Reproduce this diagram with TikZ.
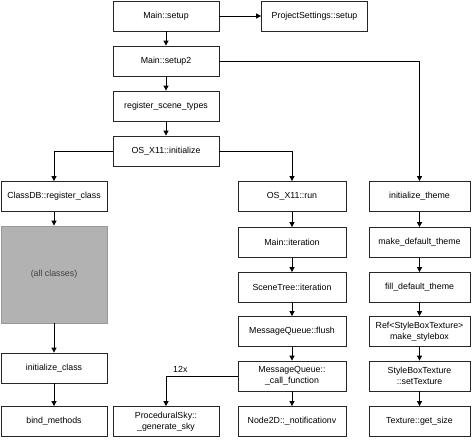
\documentclass[tikz,border=0pt]{standalone}
\usepackage{fontspec}
\setmainfont{Liberation Sans}
\usetikzlibrary{shapes,arrows.meta}
\tikzstyle{block} = [inner sep = 2, rectangle, draw=black!85, line width=0.8pt, fill=white, text centered, align=center, minimum width=106pt, minimum height=30pt, font=\fontsize{8.8}{10.5}\selectfont, node distance=45pt]
\tikzstyle{gray_block} = [block, draw=black!40, fill=black!30, text=black!75, minimum height=97pt]
\tikzstyle{line} = [draw, line width=0.8pt, -{Triangle[length=5pt,width=5pt]}]

\begin{document}
\begin{tikzpicture}[x=1pt, y=-1pt]
\useasboundingbox (0,0) rectangle (473,439);

% start chain
\node [block] (setup) at (166,16) {Main::setup};
\node [block, right of=setup, node distance=148.5pt] (settings) {ProjectSettings::setup};
\node [block, below of=setup] (setup2) {Main::setup2};
\node [block, below of=setup2] (scenetypes) {register\_scene\_types};
\node [block, below of=scenetypes] (osinit) {OS\_X11::initialize};

% class registration
\node [block] (classdb) at (54,196.5) {ClassDB::register\_class};
\node [gray_block, below of=classdb, node distance=78pt] (allclasses) {(all classes)};
\node [block, below of=allclasses, node distance=93.5pt] (initclass) {initialize\_class};
\node [block, below of=initclass, node distance=53.5pt] (bindmethods) {bind\_methods};

% main loop
\node [block, minimum width=108pt] (osrun) at (292,196.5) {OS\_X11::run};
\node [block, minimum width=108pt, below of=osrun, node distance=46pt] (iteration) {Main::iteration};
\node [block, minimum width=108pt, below of=iteration] (scenetree) {SceneTree::iteration};
\node [block, minimum width=108pt, below of=scenetree, node distance=44pt] (flush) {MessageQueue::flush};
\node [block, minimum width=108pt, below of=flush, node distance=44.5pt] (callfunc) {MessageQueue::\\\_call\_function};
\node [block, minimum width=108pt, below of=callfunc, node distance=45.5pt] (notification) {Node2D::\_notificationv};
\node [block, left of=notification, node distance=126pt] (gensky) {ProceduralSky::\\\_generate\_sky};

% theme
\node [block, minimum width=101pt] (inittheme) at (419.5,196.5) {initialize\_theme};
\node [block, minimum width=101pt, below of=inittheme, node distance=46pt] (maketheme) {make\_default\_theme};
\node [block, minimum width=101pt, below of=maketheme] (filltheme) {fill\_default\_theme};
\node [block, minimum width=101pt, below of=filltheme, node distance=44pt] (stylebox) {Ref<StyleBoxTexture>\\make\_stylebox};
\node [block, minimum width=101pt, below of=stylebox, node distance=44.5pt] (settexture) {StyleBoxTexture\\::setTexture};
\node [block, minimum width=101pt, below of=settexture, node distance=45.5pt] (getsize) {Texture::get\_size};

\path [line] (setup) -- (settings);
\path [line] (setup) -- (setup2);
\path [line] (setup2) -- (scenetypes);
\path [line] (scenetypes) -- (osinit);
\path [line] (setup2) -| (inittheme);
\path [line] (osinit) -| (classdb);
\path [line] (osinit) -| (osrun);

\path [line] (classdb) -- (allclasses);
\path [line] (allclasses) -- (initclass);
\path [line] (initclass) -- (bindmethods);

\path [line] (osrun) -- (iteration);
\path [line] (iteration) -- (scenetree);
\path [line] (scenetree) -- (flush);
\path [line] (flush) -- (callfunc);
\path [line] (callfunc) -- (notification);
\path [line] (callfunc) -| node[pos=0.4, anchor=south, font=\fontsize{8.8}{10.5}\selectfont] {12x} (gensky);

\path [line] (inittheme) -- (maketheme);
\path [line] (maketheme) -- (filltheme);
\path [line] (filltheme) -- (stylebox);
\path [line] (stylebox) -- (settexture);
\path [line] (settexture) -- (getsize);

\end{tikzpicture}
\end{document}
